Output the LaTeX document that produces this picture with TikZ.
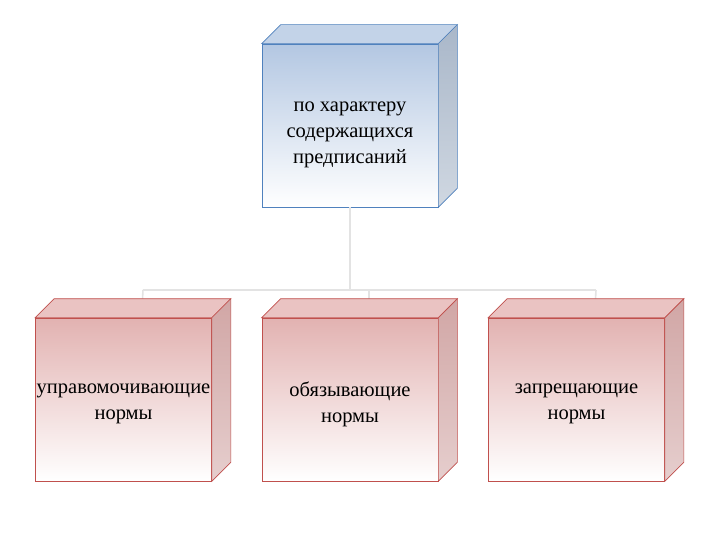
\documentclass[tikz,border=0pt]{standalone}
\usepackage{fontspec}
\setmainfont{Liberation Serif}
\begin{document}
\begin{tikzpicture}[x=1pt,y=-1pt,
  front/.style={draw, line width=0.7pt, minimum width=176, minimum height=163, inner sep=0pt},
  bluefront/.style={front, draw=blueedge, top color=bluetop, bottom color=white},
  pinkfront/.style={front, draw=pinkedge, top color=pinktop, bottom color=white},
  label/.style={align=center, inner sep=0pt, font=\fontsize{20.5}{26}\selectfont},
  link/.style={draw=linkgrey, line width=1.6pt}]
\definecolor{bluetop}{HTML}{B3C7E2}
\definecolor{bluecap}{HTML}{C3D3E8}
\definecolor{blueside}{HTML}{A9B7C9}
\definecolor{blueedge}{HTML}{4F81BD}
\definecolor{pinktop}{HTML}{E2B2B1}
\definecolor{pinkcap}{HTML}{EAC3C2}
\definecolor{pinkside}{HTML}{D1A6A5}
\definecolor{pinkedge}{HTML}{C0504D}
\definecolor{linkgrey}{HTML}{E3E3E3}
\useasboundingbox (0,0) rectangle (720,540);
\fill[white] (0,0) rectangle (720,540);
\coordinate (hub) at (350,290);
\coordinate (hl) at (143,290);
\coordinate (hm) at (369,290);
\coordinate (hr) at (596,290);
\node[bluefront] (top) at (350,125.5) {};
\node[pinkfront] (b1) at (123.5,399.5) {};
\node[pinkfront] (b2) at (350,399.5) {};
\node[pinkfront] (b3) at (576.5,399.5) {};
\draw[link] (top.south) -- (hub);
\draw[link] (hl) -- (hr);
\draw[link] (hl) -- ([xshift=19pt]b1.north |- 0,299);
\draw[link] (hm) -- ([xshift=19pt]b2.north |- 0,299);
\draw[link] (hr) -- ([xshift=19pt]b3.north |- 0,299);
\foreach \n/\cap/\side/\edge in {top/bluecap/blueside/blueedge, b1/pinkcap/pinkside/pinkedge, b2/pinkcap/pinkside/pinkedge, b3/pinkcap/pinkside/pinkedge}{
  \filldraw[fill=\cap, draw=\edge, line width=0.7pt] (\n.north west) -- ++(19,-19) -- ([shift={(19,-19)}]\n.north east) -- (\n.north east) -- cycle;
  \draw[draw=\edge, line width=0.7pt, top color=\side, bottom color=\side!55!white] (\n.north east) -- ++(19,-19) -- ([shift={(19,-19)}]\n.south east) -- (\n.south east) -- cycle;
}
\node[label] (topt) at ([yshift=-9.5pt]top.center) {по характеру\\содержащихся\\предписаний};
\node[label] (b1t) at ([yshift=-4.5pt]b1.center) {управомочивающие\\нормы};
\node[label] (b2t) at ([yshift=-4.5pt]b2.center) {обязывающие\\нормы};
\node[label] (b3t) at ([yshift=-4.5pt]b3.center) {запрещающие\\нормы};
\end{tikzpicture}
\end{document}
